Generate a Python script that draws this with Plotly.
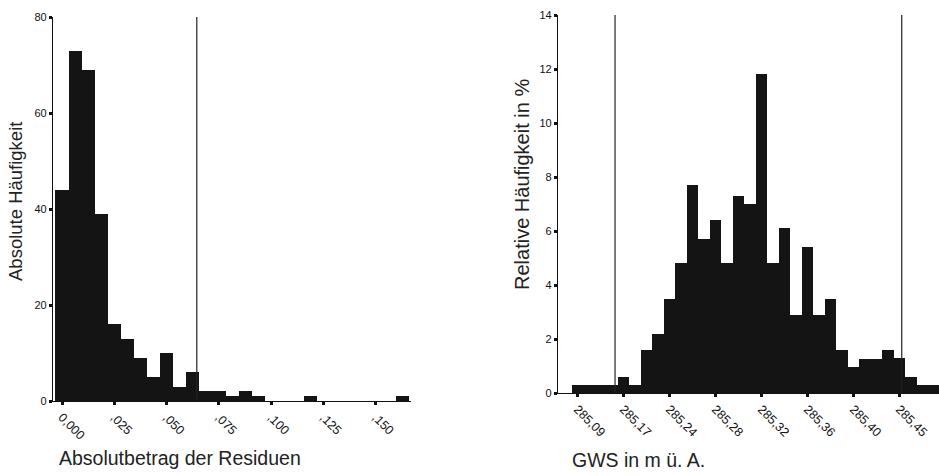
import plotly.graph_objects as go

# ---------------- Data ----------------
# Left: absolute residuals histogram (bin width 0.00625, bins centred at k*0.00625)
res_bin_width = 0.00625
res_counts = [44, 73, 69, 39, 16, 13, 9, 5, 10, 3, 6, 2, 2, 1, 2, 1, 0, 0, 0, 1, 0, 0, 0, 0, 0, 0, 1]
res_tickvals = [0.0, 0.025, 0.05, 0.075, 0.1, 0.125, 0.15]
res_ticktext = ["0,000", ",025", ",050", ",075", ",100", ",125", ",150"]
res_threshold = 0.0644

# Right: GWS relative frequency in % (32 bins)
gws_percent = [0.3, 0.3, 0.3, 0.3, 0.6, 0.3, 1.6, 2.2, 3.5, 4.8, 7.7, 5.7, 6.4, 4.8, 7.3, 7.0,
               11.8, 4.8, 6.1, 2.9, 5.4, 2.9, 3.5, 1.6, 0.95, 1.25, 1.25, 1.6, 1.3, 0.6, 0.3, 0.3]
gws_tick_bins = [0, 4, 8, 12, 16, 20, 24, 28]
gws_ticktext = ["285,09", "285,17", "285,24", "285,28", "285,32", "285,36", "285,40", "285,45"]
gws_limits = [3.27, 28.2]

# ---------------- Figure ----------------
W, H = 939, 476
BAR = "#141414"
FONT = "Liberation Sans, Arial, Helvetica, sans-serif"

res_x = [i * res_bin_width for i in range(len(res_counts))]
gws_x = list(range(len(gws_percent)))

fig = go.Figure()
fig.add_trace(go.Bar(x=res_x, y=res_counts, width=res_bin_width, marker=dict(color=BAR, line=dict(width=0)),
                     xaxis="x", yaxis="y", showlegend=False))
fig.add_trace(go.Bar(x=gws_x, y=gws_percent, width=1.0, marker=dict(color=BAR, line=dict(width=0)),
                     xaxis="x2", yaxis="y2", showlegend=False))

def px_x(p):
    return p / W

def px_y(p):
    return 1 - p / H

axis_common = dict(showgrid=False, zeroline=False, showline=True, linecolor="#111", linewidth=1.3,
                   ticks="outside", ticklen=3, tickwidth=2.5, tickcolor="#111", automargin=False)
xtick_font = dict(family=FONT, size=12.5, color="#111")
ytick_font = dict(family=FONT, size=11, color="#111")

fig.update_layout(
    width=W, height=H,
    margin=dict(l=0, r=0, t=0, b=0),
    paper_bgcolor="white", plot_bgcolor="white",
    bargap=0,
    font=dict(family=FONT, color="#222"),
    xaxis=dict(domain=[px_x(53), px_x(411)], range=[-0.0043, 0.16675], anchor="y",
               tickvals=res_tickvals, ticktext=res_ticktext, tickangle=45, tickfont=xtick_font, **axis_common),
    yaxis=dict(domain=[px_y(401), px_y(17)], range=[0, 80], anchor="x",
               tickvals=[0, 20, 40, 60, 80], tickfont=ytick_font, **axis_common),
    xaxis2=dict(domain=[px_x(558), 1.0], range=[-1.69, 31.44], anchor="y2",
                tickvals=gws_tick_bins, ticktext=gws_ticktext, tickangle=45, tickfont=xtick_font, **axis_common),
    yaxis2=dict(domain=[px_y(393), px_y(15)], range=[0, 14], anchor="x2",
                tickvals=[0, 2, 4, 6, 8, 10, 12, 14], tickfont=ytick_font, **axis_common),
)

# vertical reference lines
fig.add_shape(type="line", xref="x", yref="y", x0=res_threshold, x1=res_threshold, y0=0, y1=80,
              line=dict(color="#222", width=1.2))
for v in gws_limits:
    fig.add_shape(type="line", xref="x2", yref="y2", x0=v, x1=v, y0=0, y1=14,
                  line=dict(color="#222", width=1.2))

# axis titles
htitle_font = dict(family=FONT, size=19.5, color="#222")
fig.add_annotation(text="Absolute Häufigkeit", xref="paper", yref="paper", x=px_x(15), y=px_y(202),
                   textangle=-90, showarrow=False, font=dict(family=FONT, size=18.5, color="#222"),
                   xanchor="center", yanchor="middle")
fig.add_annotation(text="Relative Häufigkeit in %", xref="paper", yref="paper", x=px_x(522), y=px_y(185),
                   textangle=-90, showarrow=False, font=dict(family=FONT, size=20, color="#222"),
                   xanchor="center", yanchor="middle")
fig.add_annotation(text="Absolutbetrag der Residuen", xref="paper", yref="paper", x=px_x(57), y=px_y(458),
                   showarrow=False, font=htitle_font, xanchor="left", yanchor="middle")
fig.add_annotation(text="GWS in m ü. A.", xref="paper", yref="paper", x=px_x(570), y=px_y(460),
                   showarrow=False, font=htitle_font, xanchor="left", yanchor="middle")

fig.write_html("out.html", config={"displayModeBar": False},
               post_script="document.body.style.margin='0';document.body.style.overflow='hidden';")
